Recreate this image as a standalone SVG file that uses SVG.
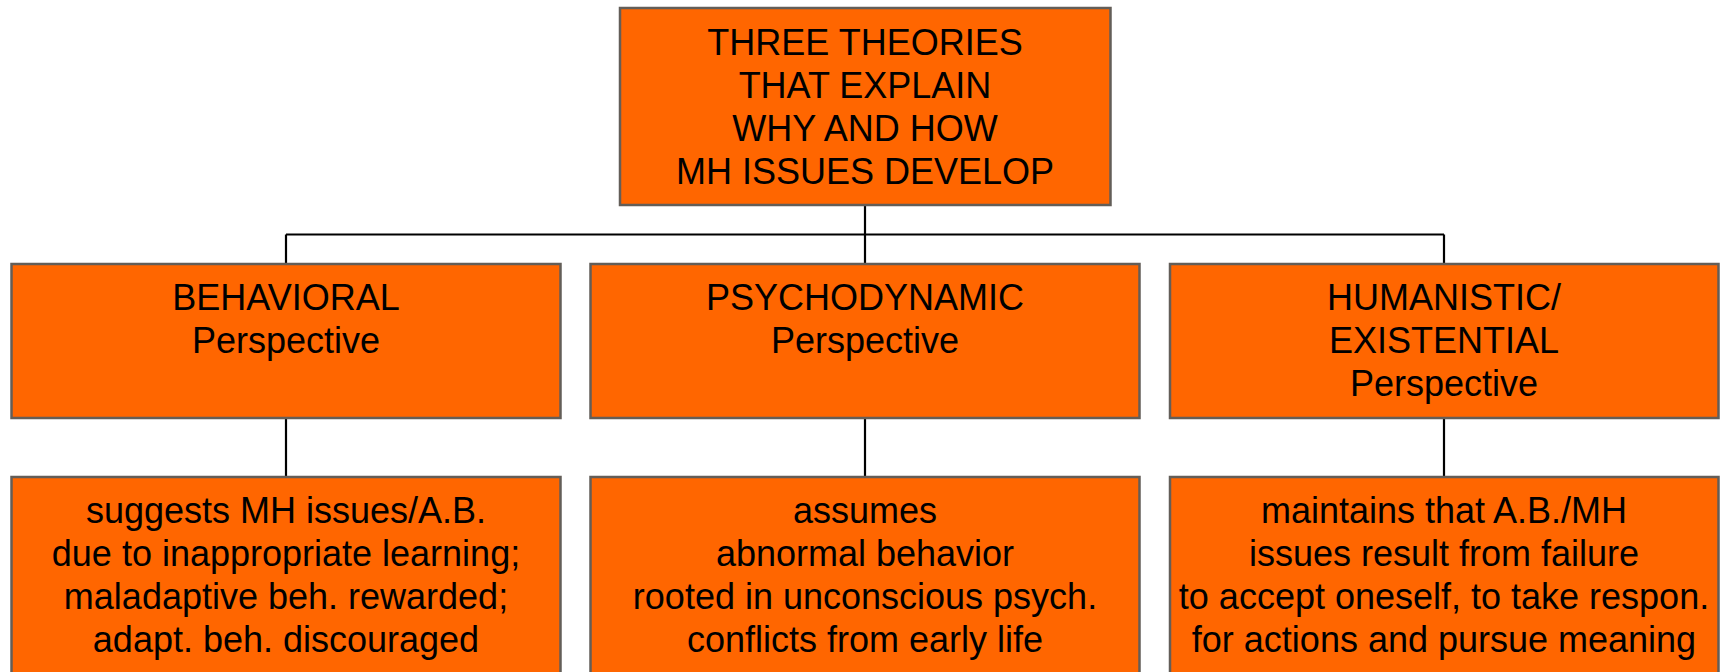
<svg xmlns="http://www.w3.org/2000/svg" width="1721" height="672" viewBox="0 0 1721 672">
<style>
.box{fill:#FF6600;stroke:#635e58;stroke-width:2.5}
.t{font-family:"Liberation Sans",Arial,sans-serif;font-size:36px;fill:#000;text-anchor:middle}
.c{stroke:#000;stroke-width:2.2;fill:none}
</style>
<rect width="1721" height="672" fill="#fff"/>
<g id="connectors">
<path class="c" d="M865 205 V234.5 M286 234.5 H1444 M286 234.5 V264 M865 234.5 V264 M1444 234.5 V264"/>
<path class="c" d="M286 418 V477 M865 418 V477 M1444 418 V477"/>
</g>
<g id="root">
<rect class="box" x="620" y="8" width="490.5" height="197"/>
<text class="t" x="865" y="54.5">THREE THEORIES</text>
<text class="t" x="865" y="97.5">THAT EXPLAIN</text>
<text class="t" x="865" y="140.5">WHY AND HOW</text>
<text class="t" x="865" y="183.5">MH ISSUES DEVELOP</text>
</g>
<g id="behavioral">
<rect class="box" x="11.5" y="264" width="549" height="154"/>
<text class="t" x="286" y="309.5">BEHAVIORAL</text>
<text class="t" x="286" y="352.5">Perspective</text>
</g>
<g id="psychodynamic">
<rect class="box" x="590.5" y="264" width="549" height="154"/>
<text class="t" x="865" y="309.5">PSYCHODYNAMIC</text>
<text class="t" x="865" y="352.5">Perspective</text>
</g>
<g id="humanistic">
<rect class="box" x="1170" y="264" width="548.5" height="154"/>
<text class="t" x="1444" y="309.5">HUMANISTIC/</text>
<text class="t" x="1444" y="352.5">EXISTENTIAL</text>
<text class="t" x="1444" y="395.5">Perspective</text>
</g>
<g id="behavioral-desc">
<rect class="box" x="11.5" y="477" width="549" height="240"/>
<text class="t" x="286" y="522.5">suggests MH issues/A.B.</text>
<text class="t" x="286" y="565.5">due to inappropriate learning;</text>
<text class="t" x="286" y="608.5">maladaptive beh. rewarded;</text>
<text class="t" x="286" y="651.5">adapt. beh. discouraged</text>
</g>
<g id="psychodynamic-desc">
<rect class="box" x="590.5" y="477" width="549" height="240"/>
<text class="t" x="865" y="522.5">assumes</text>
<text class="t" x="865" y="565.5">abnormal behavior</text>
<text class="t" x="865" y="608.5">rooted in unconscious psych.</text>
<text class="t" x="865" y="651.5">conflicts from early life</text>
</g>
<g id="humanistic-desc">
<rect class="box" x="1170" y="477" width="548.5" height="240"/>
<text class="t" x="1444" y="522.5">maintains that A.B./MH</text>
<text class="t" x="1444" y="565.5">issues result from failure</text>
<text class="t" x="1444" y="608.5">to accept oneself, to take respon.</text>
<text class="t" x="1444" y="651.5">for actions and pursue meaning</text>
</g>
</svg>
